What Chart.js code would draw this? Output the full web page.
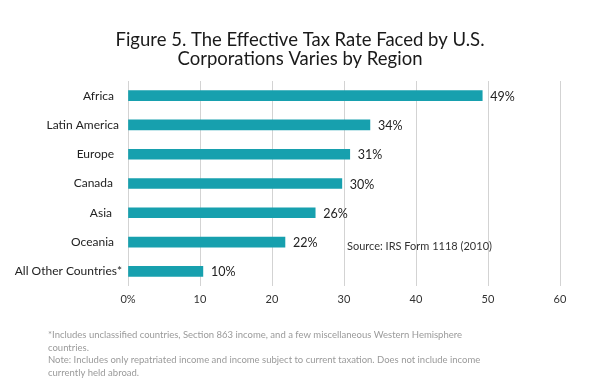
<!DOCTYPE html>
<html>
<head>
<meta charset="utf-8">
<script src="https://cdn.jsdelivr.net/npm/chart.js@4/dist/chart.umd.min.js"></script>
<style>
  html, body { margin: 0; padding: 0; background: #fff; }
  #wrap { width: 600px; height: 390px; position: relative; }
</style>
</head>
<body>
<div id="wrap"><canvas id="taxChart" width="600" height="390"></canvas></div>
<script>
const regions = ['Africa', 'Latin America', 'Europe', 'Canada', 'Asia', 'Oceania', 'All Other Countries*'];
const rates = [49.2, 33.6, 30.8, 29.7, 26.0, 21.8, 10.4];
const rateLabels = ['49%', '34%', '31%', '30%', '26%', '22%', '10%'];
const xTicks = [0, 10, 20, 30, 40, 50, 60];
const titleLines = ['Figure 5. The Effective Tax Rate Faced by U.S.', 'Corporations Varies by Region'];
const sourceText = 'Source: IRS Form 1118 (2010)';
const footLines = [
    '*Includes unclassified countries, Section 863 income, and a few miscellaneous Western Hemisphere',
    'countries.',
    'Note: Includes only repatriated income and income subject to current taxation. Does not include income',
    'currently held abroad.'
];

const FONT = 'Lato, "Open Sans", sans-serif';
// the source chart leaves a little room after most labels
const labelGap = [8, 3, 8, 9, 10, 8, 0];

// draws title, value labels, source and footnotes
const textPlugin = {
    id: 'textPlugin',
    afterDraw(chart) {
        const c = chart.ctx;
        c.save();
        c.fillStyle = '#1a1a1a';
        c.font = '18.5px ' + FONT;
        c.textAlign = 'center';
        c.textBaseline = 'alphabetic';
        c.fillText(titleLines[0], 300, 46);
        c.fillText(titleLines[1], 300, 65);

        // category labels
        const yScale = chart.scales.y;
        c.font = '12px ' + FONT;
        c.textAlign = 'right';
        c.textBaseline = 'middle';
        c.fillStyle = '#222';
        regions.forEach((r, i) => {
            c.fillText(r, 122 - labelGap[i], yScale.getPixelForValue(i));
        });

        const meta = chart.getDatasetMeta(0);
        c.font = '12.5px ' + FONT;
        c.textAlign = 'left';
        meta.data.forEach((bar, i) => {
            c.fillText(rateLabels[i], bar.x + 8, bar.y + 1);
        });

        c.font = '11px ' + FONT;
        c.fillStyle = '#333';
        c.fillText(sourceText, 347, 246);

        c.font = '9.5px ' + FONT;
        c.fillStyle = '#9a9a9a';
        footLines.forEach((t, i) => {
            c.fillText(t, 48, 335 + i * 12.6);
        });
        c.restore();
    }
};

new Chart(document.getElementById('taxChart').getContext('2d'), {
    type: 'bar',
    data: {
        labels: regions,
        datasets: [{
            data: rates,
            backgroundColor: '#17a0ae',
            barThickness: 10
        }]
    },
    options: {
        indexAxis: 'y',
        responsive: false,
        animation: false,
        layout: { padding: { left: 0, right: 40, top: 81, bottom: 84 } },
        plugins: {
            legend: { display: false },
            tooltip: { enabled: false }
        },
        scales: {
            x: {
                min: 0,
                max: 60,
                afterBuildTicks(scale) { scale.ticks = xTicks.map(v => ({ value: v })); },
                afterFit(scale) { scale.height = 20; },
                grid: { color: '#d3d3d3', drawTicks: false },
                border: { display: false },
                ticks: {
                    padding: 7,
                    color: '#333',
                    font: { family: FONT, size: 11 },
                    callback: v => v === 0 ? '0%' : v
                }
            },
            y: {
                afterFit(scale) { scale.width = 128; },
                grid: { display: false },
                border: { display: false },
                ticks: { display: false }
            }
        }
    },
    plugins: [textPlugin]
});
</script>
</body>
</html>
